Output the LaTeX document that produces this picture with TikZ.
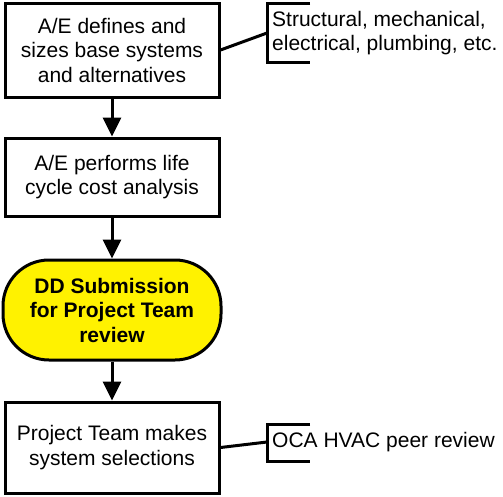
\documentclass[tikz,border=0pt]{standalone}
\usepackage{fontspec}
\setmainfont{Liberation Sans}
\usetikzlibrary{arrows.meta}

\tikzset{
  procbox/.style = {draw, line width = 3pt, fill = white, align = center,
    minimum width = 214pt, inner sep = 0pt},
  reviewpill/.style = {draw, line width = 3pt, fill = yellow, align = center,
    rounded corners = 46pt, minimum width = 218pt, minimum height = 100pt,
    inner sep = 0pt, font = \fontsize{21}{24.5}\selectfont\bfseries},
  notetext/.style = {anchor = west, align = left, inner sep = 0pt},
  flowarrow/.style = {line width = 3pt, -{Triangle[length = 19pt, width = 18pt]}},
  bracket/.style = {line width = 3pt},
}

\begin{document}
\begin{tikzpicture}[x = 1pt, y = -1pt, font = \fontsize{21}{24.5}\selectfont]
\useasboundingbox (0,0) rectangle (503,496);
% main flow
\node [procbox, minimum height = 94pt] (b1) at (112,50) {A/E defines and\\sizes base systems\\and alternatives};
\node [procbox, minimum height = 78pt] (b2) at (112,177) {A/E performs life\\cycle cost analysis};
\node [reviewpill] (dd) at (112,310) {DD Submission\\for Project Team\\review};
\node [procbox, minimum height = 91pt] (b4) at (112,447.5) {Project Team makes\\system selections};
\draw [flowarrow] (b1) -- (b2);
\draw [flowarrow] (b2) -- (dd);
\draw [flowarrow] (dd) -- (b4);
% notes
\coordinate (n1) at (267,33);
\coordinate (n2) at (267,442);
\draw [bracket] (310,3) -- (267,3) -- (267,62) -- (310,62);
\draw [bracket] (310,424) -- (267,424) -- (267,461) -- (310,461);
\node [notetext] (t1) at (272,33) {Structural, mechanical,\\electrical, plumbing, etc.};
\node [notetext] (t2) at (272,442) {OCA HVAC peer review};
\draw [bracket] (b1.east) -- (n1);
\draw [bracket] (b4.east) -- (n2);
\end{tikzpicture}
\end{document}
